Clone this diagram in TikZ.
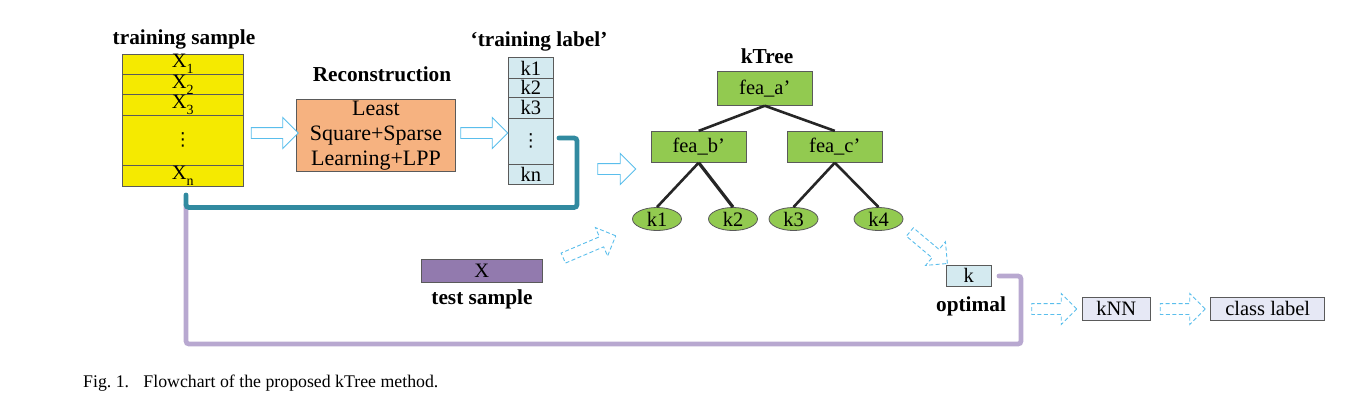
\documentclass[tikz,border=0pt]{standalone}
\usepackage{fontspec}
\setmainfont{Liberation Serif}
\newfontfamily\symfont{DejaVu Sans}
\usetikzlibrary{shapes.geometric,shapes.arrows}

\definecolor{smpyellow}{RGB}{245,234,0}
\definecolor{recorange}{RGB}{246,178,128}
\definecolor{lblblue}{RGB}{212,234,240}
\definecolor{treegreen}{RGB}{146,202,80}
\definecolor{tstpurple}{RGB}{146,122,174}
\definecolor{knnlav}{RGB}{230,232,245}
\definecolor{boxgray}{RGB}{90,90,90}
\definecolor{tealline}{RGB}{49,138,160}
\definecolor{lilacline}{RGB}{184,168,208}
\definecolor{arrowblue}{RGB}{90,190,236}

\newcommand{\xsub}[1]{X\raisebox{-0.3em}{\fontsize{14}{14}\selectfont #1}}
\newcommand{\vdotz}{{\symfont\fontsize{18}{20}\selectfont ⋮}}

\tikzset{
  box/.style={draw=boxgray, line width=0.8pt, inner sep=0pt, font=\fontsize{20.5}{25}\selectfont},
  title/.style={font=\fontsize{21.3}{24}\selectfont\bfseries, inner sep=0pt},
  hollowarrow/.style={single arrow, draw=arrowblue, line width=0.9pt, fill=white,
    minimum height=#1, inner sep=5pt, single arrow head extend=10pt},
  dasharrow/.style={hollowarrow=#1, dash pattern=on 4pt off 2.5pt},
  leaf/.style={ellipse, draw=boxgray, line width=0.8pt, fill=treegreen, inner sep=0pt,
    minimum width=49pt, minimum height=23pt, font=\fontsize{20.5}{24}\selectfont},
  edge/.style={line width=2.6pt, black!85},
  wire/.style={line width=4.8pt, rounded corners=3pt, line cap=round}
}

\begin{document}
\begin{tikzpicture}[x=1pt,y=-1pt]
\useasboundingbox (0,0) rectangle (1346,418);

% training sample
\node[title] (smptitle) at (184,39) {training sample};
\node[box, fill=smpyellow, minimum width=121pt, minimum height=20.5pt] (smp1) at (182.8,64.2) {\xsub{1}};
\node[box, fill=smpyellow, minimum width=121pt, minimum height=20.5pt] (smp2) at (182.8,84.6) {\xsub{2}};
\node[box, fill=smpyellow, minimum width=121pt, minimum height=20.5pt] (smp3) at (182.8,105) {\xsub{3}};
\node[box, fill=smpyellow, minimum width=121pt, minimum height=50pt] (smp4) at (182.8,140.3) {\vdotz};
\node[box, fill=smpyellow, minimum width=121pt, minimum height=20.7pt] (smpn) at (182.8,175.6) {\xsub{n}};

% reconstruction
\node[title] (rectitle) at (382,74) {Reconstruction};
\node[box, fill=recorange, minimum width=159.4pt, minimum height=71.7pt, align=center,
  font=\fontsize{22}{25}\selectfont] (rec) at (376,135.2)
  {Least\\Square+Sparse\\Learning+LPP};

% training label
\node[title] (lbltitle) at (539,41) {‘training label’};
\node[box, fill=lblblue, minimum width=45pt, minimum height=20.5pt] (lbl1) at (530.8,68) {k1};
\node[box, fill=lblblue, minimum width=45pt, minimum height=19.5pt] (lbl2) at (530.8,87.8) {k2};
\node[box, fill=lblblue, minimum width=45pt, minimum height=20.5pt] (lbl3) at (530.8,107.8) {k3};
\node[box, fill=lblblue, minimum width=45pt, minimum height=46pt] (lbl4) at (530.8,141) {\vdotz};
\node[box, fill=lblblue, minimum width=45pt, minimum height=20pt] (lbln) at (530.8,174) {kn};

% kTree
\node[title] (treetitle) at (767,56) {kTree};
\node[box, fill=treegreen, minimum width=95pt, minimum height=34.3pt] (feaa) at (764.8,88.2) {fea\_a’};
\node[box, fill=treegreen, minimum width=95.3pt, minimum height=31pt] (feab) at (698.7,146.8) {fea\_b’};
\node[box, fill=treegreen, minimum width=95pt, minimum height=31pt] (feac) at (834.8,146.8) {fea\_c’};
\node[leaf] (k1) at (657,219) {k1};
\node[leaf] (k2) at (733,219) {k2};
\node[leaf] (k3) at (793.5,219) {k3};
\node[leaf] (k4) at (878.5,219) {k4};
\draw[edge] (feaa.south) -- (feab.north);
\draw[edge] (feaa.south) -- (feac.north);
\draw[edge] (feab.south) -- (k1.north);
\draw[edge, line width=3.2pt] (feab.south) -- (k2.north);
\draw[edge] (feac.south) -- (k3.north);
\draw[edge] (feac.south) -- (k4.north);

% test sample
\node[box, fill=tstpurple, minimum width=121.3pt, minimum height=23pt] (tst) at (481.7,270.8) {X};
\node[title] (tsttitle) at (482,299) {test sample};

% optimal k, kNN, class label
\node[box, fill=lblblue, minimum width=45.3pt, minimum height=21.7pt] (kopt) at (968.7,275.8) {k};
\node[title] (opttitle) at (971,306) {optimal};
\node[box, fill=knnlav, minimum width=68pt, minimum height=22.3pt] (knn) at (1116.3,308.8) {kNN};
\node[box, fill=knnlav, minimum width=114pt, minimum height=22.3pt] (cls) at (1267.7,308.8) {class label};

% flow arrows
\node[hollowarrow=47pt] (arr1) at (272,133) {};
\node[hollowarrow=47pt] (arr2) at (481.5,133) {};
\node[hollowarrow=38pt] (arr3) at (614,169) {};
\node[dasharrow=57pt, rotate=23] (arr4) at (587,248) {};
\node[dasharrow=49pt, rotate=-40] (arr5) at (926.5,246) {};
\node[dasharrow=45pt] (arr6) at (1051.5,309) {};
\node[dasharrow=45pt] (arr7) at (1180,309) {};

% feedback lines
\coordinate (smpdown) at (186,205);
\coordinate (koptout) at (999,276);
\draw[wire, lilacline] (smpdown) |- (1021,344) |- (koptout);
\coordinate (lblout) at (559,138);
\coordinate (smpout) at (186,195);
\draw[wire, tealline] (lblout) -| (577,207.5) -| (smpout);

% caption
\node[anchor=west, inner sep=0pt, font=\fontsize{17.8}{20}\selectfont] (caption) at (83,383)
  {Fig.~1.\hspace{0.8em}Flowchart of the proposed kTree method.};
\end{tikzpicture}
\end{document}
